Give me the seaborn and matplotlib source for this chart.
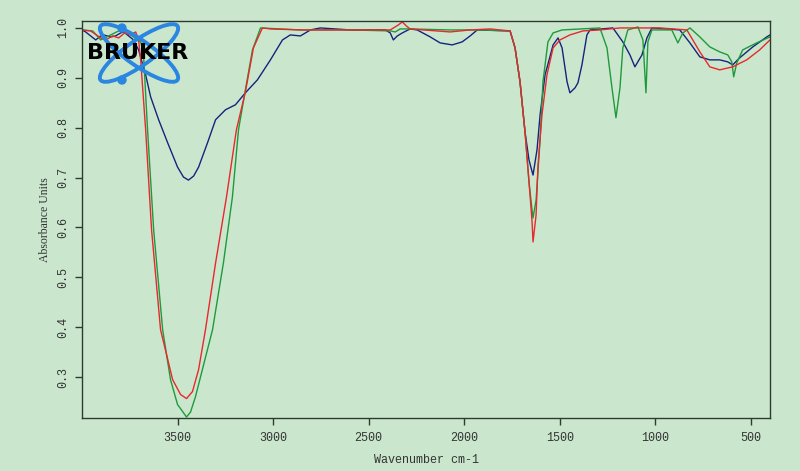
import numpy as np
import pandas as pd
import matplotlib
matplotlib.use("Agg")
import matplotlib.pyplot as plt
from matplotlib.patches import Ellipse, Circle
from matplotlib.transforms import IdentityTransform
import seaborn as sns

# ---- spectra (wavenumber cm-1, absorbance) ----
red_wn = [4000, 3955, 3902, 3876, 3840, 3808, 3777, 3746, 3719, 3704, 3693, 3667, 3636,
          3589, 3526, 3484, 3453, 3422, 3390, 3354, 3301, 3244, 3192, 3145, 3103, 3056,
          3014, 2857, 2596, 2387, 2345, 2324, 2303, 2283, 2074, 1969, 1865, 1760, 1734,
          1708, 1682, 1661, 1645, 1640, 1624, 1614, 1593, 1567, 1535, 1499, 1447, 1379,
          1290, 1185, 976, 835, 767, 715, 663, 595, 522, 454, 400]
red_abs = [0.996, 0.994, 0.980, 0.976, 0.984, 0.980, 0.990, 0.986, 0.992, 0.976, 0.936,
           0.796, 0.595, 0.395, 0.295, 0.265, 0.257, 0.271, 0.315, 0.395, 0.529, 0.661,
           0.796, 0.872, 0.960, 1.000, 0.998, 0.996, 0.996, 0.996, 1.006, 1.012, 1.004,
           0.998, 0.992, 0.996, 0.998, 0.994, 0.960, 0.892, 0.792, 0.691, 0.611, 0.571,
           0.625, 0.725, 0.826, 0.906, 0.960, 0.976, 0.986, 0.994, 0.996, 1.000, 1.000,
           0.996, 0.952, 0.922, 0.916, 0.922, 0.936, 0.956, 0.976]

green_wn = [4000, 3944, 3902, 3850, 3798, 3746, 3693, 3678, 3657, 3625, 3578, 3537, 3500,
            3453, 3432, 3406, 3317, 3260, 3213, 3181, 3145, 3108, 3066, 2857, 2596, 2387,
            2361, 2335, 2283, 2074, 1917, 1760, 1734, 1708, 1682, 1661, 1645, 1640, 1624,
            1603, 1588, 1562, 1535, 1488, 1290, 1253, 1227, 1206, 1185, 1170, 1144, 1091,
            1065, 1049, 1039, 1018, 914, 882, 856, 819, 767, 715, 663, 621, 600, 590, 574,
            543, 470, 400]
green_abs = [0.996, 0.994, 0.976, 0.986, 0.996, 0.986, 0.972, 0.946, 0.796, 0.595, 0.395,
             0.295, 0.245, 0.220, 0.230, 0.261, 0.395, 0.529, 0.661, 0.796, 0.876, 0.956,
             1.000, 0.996, 0.996, 0.994, 0.992, 0.998, 0.998, 0.996, 0.996, 0.994, 0.960,
             0.892, 0.792, 0.691, 0.635, 0.619, 0.655, 0.776, 0.892, 0.972, 0.990, 0.996,
             1.000, 0.960, 0.880, 0.820, 0.880, 0.960, 0.996, 1.002, 0.976, 0.870, 0.972,
             0.996, 0.996, 0.970, 0.990, 1.000, 0.982, 0.962, 0.952, 0.946, 0.932, 0.902,
             0.930, 0.956, 0.970, 0.982]

blue_wn = [4000, 3981, 3955, 3928, 3902, 3887, 3850, 3824, 3798, 3782, 3756, 3730, 3704,
           3667, 3641, 3599, 3552, 3500, 3469, 3443, 3416, 3390, 3343, 3301, 3249, 3197,
           3145, 3082, 3014, 2951, 2910, 2857, 2805, 2753, 2596, 2413, 2387, 2371, 2350,
           2324, 2283, 2246, 2178, 2126, 2063, 2011, 1969, 1932, 1760, 1734, 1708, 1682,
           1661, 1640, 1619, 1603, 1577, 1535, 1509, 1488, 1462, 1447, 1420, 1405, 1384,
           1358, 1342, 1222, 1170, 1133, 1107, 1070, 1044, 1018, 872, 819, 767, 715, 663,
           621, 595, 559, 490, 417, 400]
blue_abs = [0.996, 0.992, 0.984, 0.976, 0.984, 0.986, 0.982, 0.984, 0.990, 0.992, 0.984,
            0.976, 0.956, 0.906, 0.862, 0.816, 0.770, 0.721, 0.701, 0.695, 0.703, 0.721,
            0.770, 0.816, 0.836, 0.846, 0.870, 0.896, 0.936, 0.976, 0.986, 0.984, 0.996,
            1.000, 0.996, 0.996, 0.990, 0.976, 0.984, 0.990, 0.998, 0.996, 0.982, 0.970,
            0.966, 0.972, 0.984, 0.996, 0.994, 0.960, 0.892, 0.792, 0.735, 0.705, 0.756,
            0.826, 0.906, 0.966, 0.980, 0.960, 0.892, 0.870, 0.880, 0.890, 0.926, 0.986,
            0.996, 1.000, 0.972, 0.946, 0.922, 0.946, 0.980, 1.000, 0.996, 0.970, 0.942,
            0.936, 0.936, 0.932, 0.926, 0.940, 0.962, 0.982, 0.986]

xticks = [3500, 3000, 2500, 2000, 1500, 1000, 500]
yticks = [0.3, 0.4, 0.5, 0.6, 0.7, 0.8, 0.9, 1.0]

bg = "#cae7ce"
sns.set_theme(style="ticks", rc={"axes.facecolor": bg, "figure.facecolor": bg,
                                 "axes.edgecolor": "#2f3a2f", "axes.linewidth": 1.0,
                                 "xtick.color": "#2f3a2f", "ytick.color": "#2f3a2f"})
plt.rcParams["font.family"] = ["Liberation Mono", "DejaVu Sans"]

fig = plt.figure(figsize=(8, 4.71), dpi=100)
ax = fig.add_axes([0.1025, 0.1125, 0.86, 0.843])

sns.lineplot(x=blue_wn, y=blue_abs, sort=False, estimator=None, color="#16237e", lw=1.0, ax=ax)
sns.lineplot(x=green_wn, y=green_abs, sort=False, estimator=None, color="#1e9a3c", lw=1.0, ax=ax)
sns.lineplot(x=red_wn, y=red_abs, sort=False, estimator=None, color="#e8282c", lw=1.0, ax=ax)

ax.set_xlim(4000, 400)
ax.set_ylim(0.218, 1.014)
ax.set_xticks(xticks)
ax.set_xticklabels([str(t) for t in xticks], fontsize=8.5, color="#333333")
ax.set_yticks(yticks)
ax.set_yticklabels([f"{t:.1f}" for t in yticks], fontsize=8.5, color="#333333",
                   rotation=90, va="center")
ax.tick_params(direction="out", length=5, width=1)
ax.tick_params(axis="x", pad=5)
ax.tick_params(axis="y", pad=4)
ax.set_xlabel("Wavenumber cm-1", fontsize=8.5, color="#333333", labelpad=7)
ax.set_ylabel("Absorbance Units", fontsize=8.5, color="#333333",
              family=["Liberation Serif", "DejaVu Serif"], labelpad=5)

# ---- Bruker logo (display pixels, y from bottom) ----
H = 471
cx, cy = 139, H - 53
for ang in (35, -35):
    fig.patches.append(Ellipse((cx, cy), 94, 25, angle=ang, fill=False,
                               ec="#2a86e0", lw=2.8, transform=IdentityTransform()))
for px, py in [(122, 28), (122, 80)]:
    fig.patches.append(Circle((px, H - py), 4, color="#2a86e0", transform=IdentityTransform()))
fig.text(138 / 800, 1 - 53 / H, "BRUKER", ha="center", va="center", fontsize=16,
         fontweight="black", color="black", family=["DejaVu Sans", "Liberation Sans"])

fig.savefig("out.png", dpi=100, facecolor=bg)
